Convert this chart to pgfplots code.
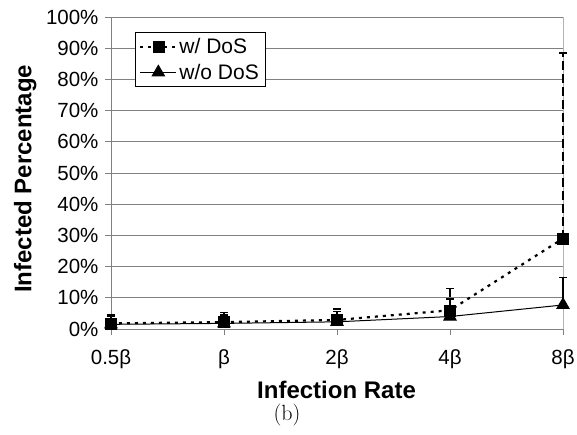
\documentclass[border=0pt]{standalone}
\usepackage{fontspec}
\usepackage{pgfplots}
\pgfplotsset{compat=1.18}
\newfontfamily\arial{Liberation Sans}
\definecolor{gridgray}{RGB}{128,128,128}
\begin{document}
\begin{tikzpicture}
\useasboundingbox (-111pt,-105pt) rectangle (466pt,329pt);
\begin{axis}[
  at={(0pt,0pt)}, anchor=south west,
  scale only axis, width=452pt, height=312pt,
  xmin=0, xmax=4, ymin=0, ymax=100,
  axis line style={gridgray},
  axis x line*=bottom, axis y line*=left,
  xtick={0,1,2,3,4},
  xticklabels={0.5β,β,2β,4β,8β},
  ytick={0,10,...,100},
  yticklabels={0\%,10\%,20\%,30\%,40\%,50\%,60\%,70\%,80\%,90\%,100\%},
  ticklabel style={font=\arial\fontsize{20.5}{24}\selectfont, text=black},
  xticklabel style={yshift=-11pt},
  yticklabel style={xshift=-3pt},
  tick align=outside, major tick length=6pt,
  tick style={gridgray, line width=0.8pt},
  ymajorgrids, grid style={gridgray, line width=0.8pt},
  xlabel={Infection Rate},
  ylabel={Infected Percentage},
  label style={font=\arial\bfseries\fontsize{24}{28}\selectfont},
  xlabel style={at={(axis description cs:0.499,-0.196)}, anchor=center},
  ylabel style={at={(axis description cs:-0.190,0.481)}, anchor=center, rotate=0},
  legend style={at={(axis description cs:0.053,0.952)}, anchor=north west,
    draw=black, line width=0.6pt, fill=white, font=\arial\fontsize{21}{24}\selectfont,
    row sep=7pt, inner xsep=4pt, inner ysep=5pt,
    nodes={inner ysep=1pt}},
  legend cell align=left,
  reverse legend,
  legend image code/.code={
    \draw[#1, mark repeat=2, mark phase=2] plot coordinates {(0pt,0pt) (18pt,0pt) (36pt,0pt)};
  },
  clip=false,
]
\draw[gridgray!60, line width=0.8pt] (axis cs:4,0) -- (axis cs:4,100);
% w/o DoS
\addplot[black, line width=1pt, mark=triangle*, mark size=7pt,
  mark options={solid},
  error bars/.cd, y dir=plus, y explicit,
  error bar style={line width=2pt, solid},
  error mark options={rotate=90, mark size=4pt, line width=1.8pt}]
  coordinates {
  (0,1.5) +- (0,2.5)
  (1,1.8) +- (0,2.8)
  (2,2.3) +- (0,3.3)
  (3,4.0) +- (0,5.5)
  (4,7.7) +- (0,8.8)
  };
\addlegendentry{w/o DoS}
% w/ DoS
\addplot[black, line width=2.2pt, dash pattern=on 3pt off 5pt, mark=square*, mark size=5.5pt,
  mark options={solid, line width=0.5pt},
  error bars/.cd, y dir=plus, y explicit,
  error bar style={line width=2.5pt, dash pattern=on 9pt off 4pt},
  error mark options={rotate=90, mark size=4pt, line width=1.8pt, solid}]
  coordinates {
  (0,1.8) +- (0,2.7)
  (1,2.2) +- (0,3.1)
  (2,2.9) +- (0,3.6)
  (3,6.0) +- (0,7.0)
  (4,29.0) +- (0,59.5)
  };
\addlegendentry{w/ DoS}
\end{axis}
\node[font=\fontsize{22}{24}\selectfont, anchor=center] at (176pt,-86pt) {(b)};
\end{tikzpicture}
\end{document}
